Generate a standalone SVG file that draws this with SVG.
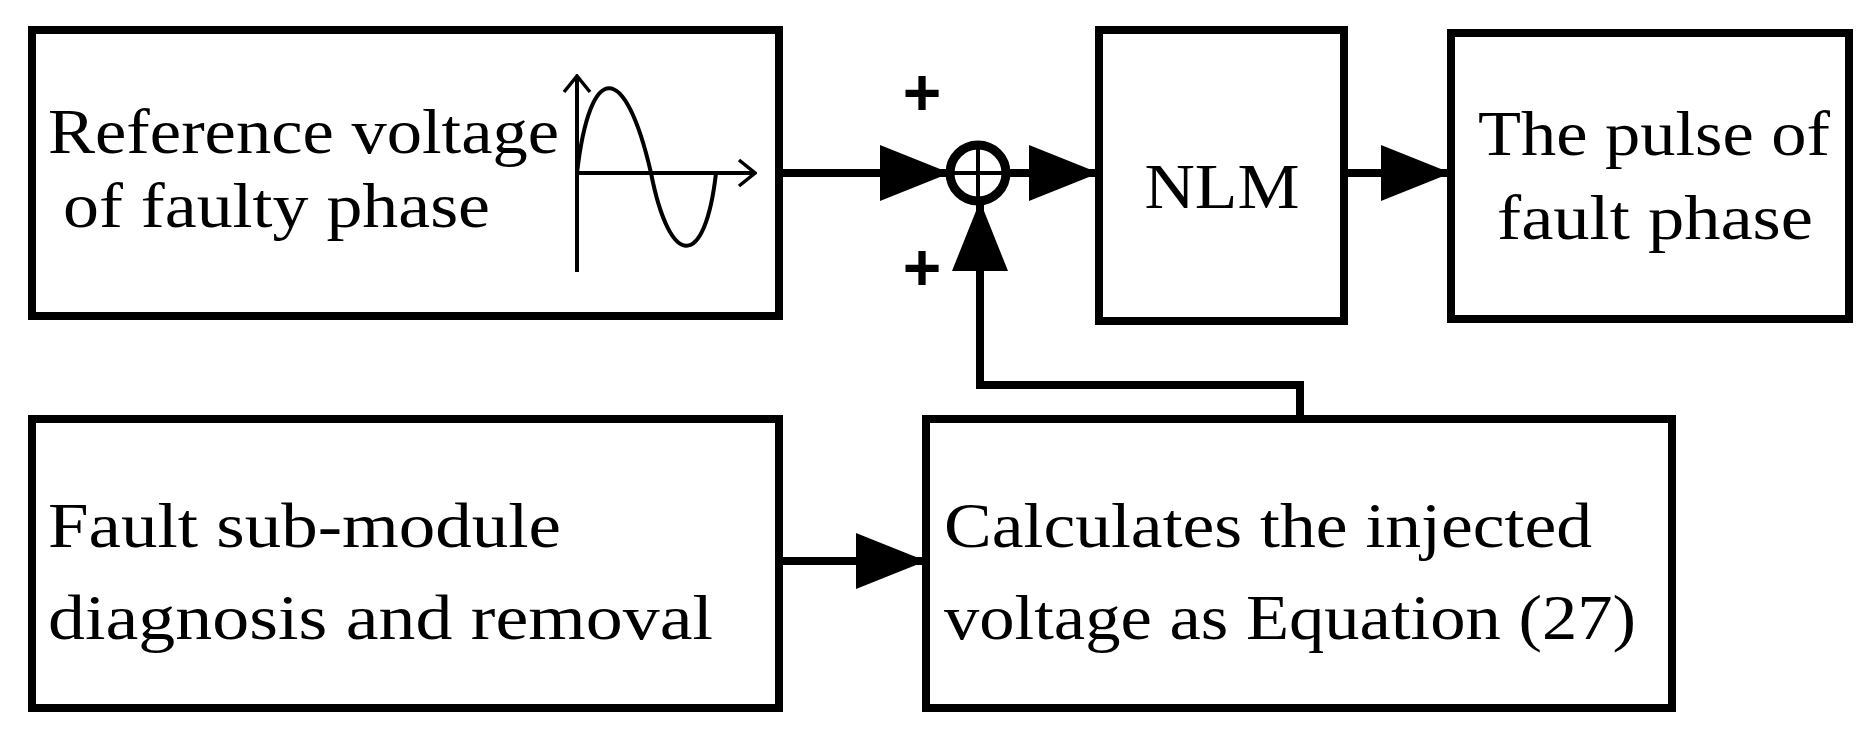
<svg xmlns="http://www.w3.org/2000/svg" width="1873" height="738" viewBox="0 0 1873 738">
<style>
.b{fill:#fff;stroke:#000;stroke-width:8}
.t{font-family:"Liberation Serif",serif;font-size:64px;fill:#000}
.p{font-family:"Liberation Sans",sans-serif;font-size:66px;font-weight:bold;fill:#000}
.c{fill:none;stroke:#000;stroke-width:8}
.s{fill:none;stroke:#000;stroke-width:4}
</style>
<defs>
<marker id="a" markerUnits="userSpaceOnUse" markerWidth="70" markerHeight="60" viewBox="0 0 70 60" refX="70" refY="30" orient="auto"><path d="M0,2 L70,30 L0,58 Z" fill="#000"/></marker>
<marker id="o" markerUnits="userSpaceOnUse" markerWidth="20" markerHeight="30" viewBox="0 0 20 30" refX="18" refY="15" orient="auto"><path d="M2,2 L18,15 L2,28" fill="none" stroke="#000" stroke-width="3.5"/></marker>
</defs>
<g id="ref"><rect class="b" x="32" y="30" width="747" height="286"/>
<text class="t" x="48" y="153" textLength="511" lengthAdjust="spacingAndGlyphs">Reference voltage</text>
<text class="t" x="63" y="227" textLength="427" lengthAdjust="spacingAndGlyphs">of faulty phase</text>
<line class="s" x1="577" y1="272" x2="577" y2="76" marker-end="url(#o)"/>
<line class="s" x1="577" y1="173" x2="755" y2="173" marker-end="url(#o)"/>
<path class="s" d="M577,173 C590,60 625,60 651,173 C670,270 705,270 716,173"/>
</g>
<g id="sum"><circle cx="978" cy="173" r="28" fill="#fff" stroke="#000" stroke-width="9"/>
<line class="s" x1="950" y1="173" x2="1006" y2="173" stroke-width="6"/><line class="s" x1="978" y1="145" x2="978" y2="201" stroke-width="6"/>
<text class="p" x="922" y="115" text-anchor="middle">+</text>
<text class="p" x="922" y="290" text-anchor="middle">+</text></g>
<g id="nlm"><rect class="b" x="1099" y="30" width="245" height="291"/>
<text class="t" x="1222" y="208" text-anchor="middle" textLength="155" lengthAdjust="spacingAndGlyphs">NLM</text></g>
<g id="pulse"><rect class="b" x="1451" y="33" width="398" height="286"/>
<text class="t" x="1478" y="155" textLength="352" lengthAdjust="spacingAndGlyphs">The pulse of</text>
<text class="t" x="1497" y="239" textLength="316" lengthAdjust="spacingAndGlyphs">fault phase</text></g>
<g id="fault"><rect class="b" x="32" y="419" width="747" height="289"/>
<text class="t" x="48" y="547" textLength="513" lengthAdjust="spacingAndGlyphs">Fault sub-module</text>
<text class="t" x="48" y="639" textLength="665" lengthAdjust="spacingAndGlyphs">diagnosis and removal</text></g>
<g id="calc"><rect class="b" x="926" y="419" width="746" height="289"/>
<text class="t" x="944" y="547" textLength="648" lengthAdjust="spacingAndGlyphs">Calculates the injected</text>
<text class="t" x="944" y="639" textLength="692" lengthAdjust="spacingAndGlyphs">voltage as Equation (27)</text></g>
<g id="connectors">
<line class="c" x1="779" y1="173" x2="950" y2="173" marker-end="url(#a)"/>
<line class="c" x1="1006" y1="173" x2="1099" y2="173" marker-end="url(#a)"/>
<line class="c" x1="1344" y1="173" x2="1451" y2="173" marker-end="url(#a)"/>
<polyline class="c" points="1300,419 1300,385 980,385 980,201" marker-end="url(#a)"/>
<line class="c" x1="779" y1="561" x2="926" y2="561" marker-end="url(#a)"/>
</g>
</svg>
